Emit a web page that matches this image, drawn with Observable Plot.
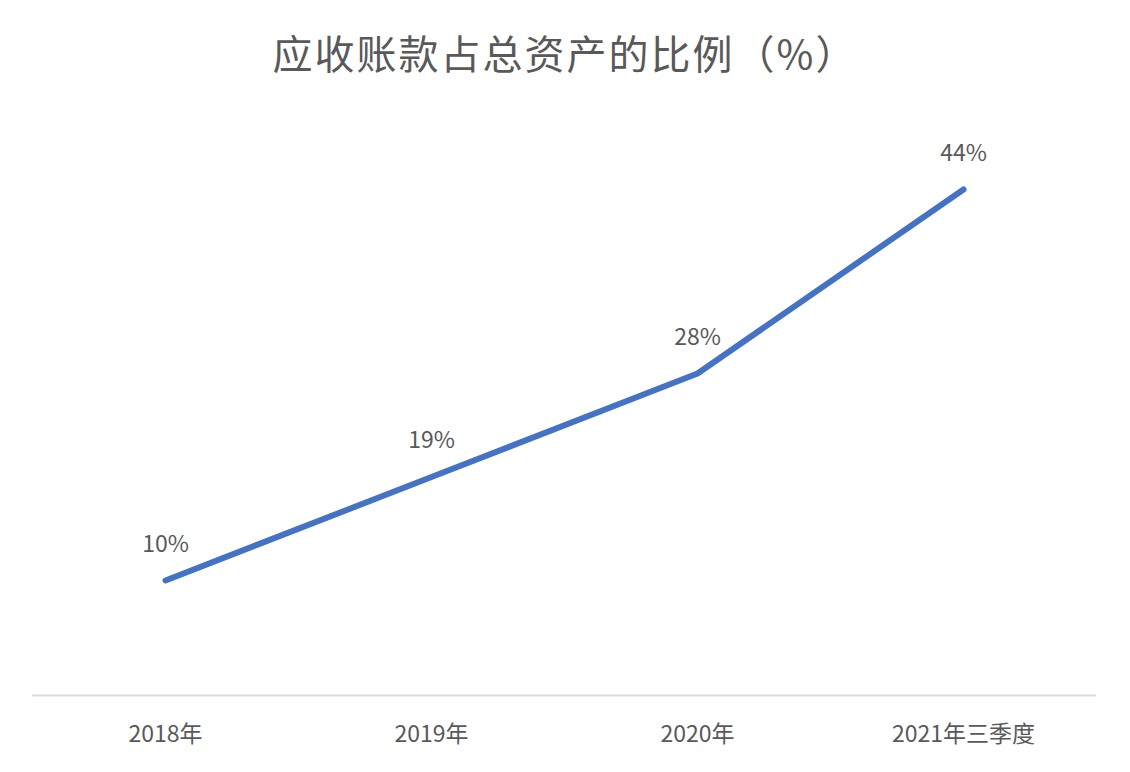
<!DOCTYPE html>
<html>
<head>
<meta charset="utf-8">
<script src="https://cdn.jsdelivr.net/npm/d3@7"></script>
<script src="https://cdn.jsdelivr.net/npm/@observablehq/plot@0.6"></script>
<style>
  html, body { margin: 0; padding: 0; background: #fff; }
  body { width: 1130px; height: 772px; overflow: hidden; font-family: "Noto Sans CJK SC", "Noto Sans", sans-serif; }
  #title { height: 100px; line-height: 104px; text-align: center; font-size: 40px; color: #595959; letter-spacing: 2px; }
</style>
</head>
<body>
<div id="title">应收账款占总资产的比例（%）</div>
<div id="chart"></div>
<script>
const categories = ["2018年", "2019年", "2020年", "2021年三季度"];
const values = [10, 19, 28, 44];
const labels = ["10%", "19%", "28%", "44%"];

const data = categories.map((c, i) => ({category: c, value: values[i], label: labels[i]}));

const chart = Plot.plot({
  width: 1130,
  height: 672,
  marginLeft: 32,
  marginRight: 34,
  marginTop: 20,
  marginBottom: 77,
  style: {fontFamily: "'Noto Sans CJK SC', 'Noto Sans', sans-serif", fontSize: "23px", color: "#595959", background: "transparent"},
  x: {type: "point", domain: categories, padding: 0.5, label: null},
  y: {domain: [0, 50], axis: null},
  marks: [
    Plot.ruleY([0], {stroke: "#d9d9d9", strokeWidth: 2}),
    Plot.axisX({tickSize: 0, tickPadding: 30, fontSize: 23, fill: "#595959", label: null}),
    Plot.line(data, {x: "category", y: "value", stroke: "#4472C4", strokeWidth: 6, strokeLinecap: "round", strokeLinejoin: "round"}),
    Plot.text(data, {x: "category", y: "value", text: "label", dy: -36, fontSize: 23, fill: "#595959"})
  ]
});
document.getElementById("chart").appendChild(chart);
</script>
</body>
</html>
